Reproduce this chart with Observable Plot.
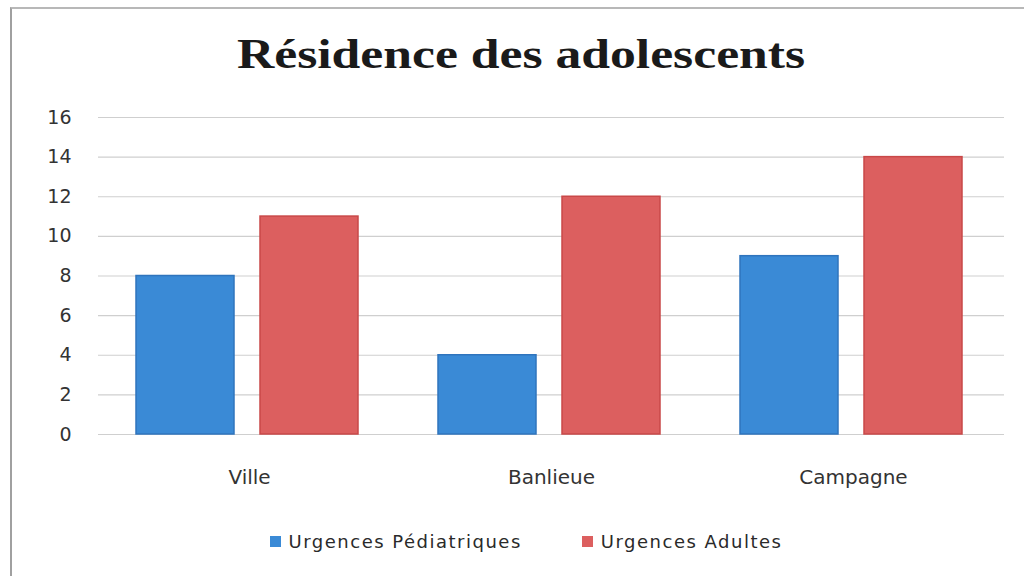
<!DOCTYPE html>
<html>
<head>
<meta charset="utf-8">
<script src="https://cdn.jsdelivr.net/npm/d3@7"></script>
<script src="https://cdn.jsdelivr.net/npm/@observablehq/plot@0.6"></script>
<style>
  html, body { margin: 0; padding: 0; background: #fff; }
  #wrap { position: relative; width: 1024px; height: 576px; overflow: hidden; }
  #frame { position: absolute; left: 10px; top: 7px; width: 1030px; height: 600px; border-left: 2px solid #a0a0a0; border-top: 2px solid #b8b8b8; box-sizing: border-box; }
  #title { position: absolute; left: 0; width: 1042px; top: 30px; text-align: center; font-family: "Liberation Serif", serif; font-weight: bold; font-size: 42px; color: #1a1a1a; transform: scaleX(1.23); transform-origin: 521px 0; }
  #chart { position: absolute; left: 0; top: 90px; }
  #legend { position: absolute; top: 531px; left: 0; width: 1052px; display: flex; justify-content: center; gap: 60px; font-family: "DejaVu Sans", sans-serif; font-size: 18px; letter-spacing: 1.5px; color: #2a2a2a; }
  #legend span.item { display: flex; align-items: center; gap: 8px; }
  #legend span.sw { display: inline-block; width: 11px; height: 11px; }
</style>
</head>
<body>
<div id="wrap">
  <div id="frame"></div>
  <div id="title">Résidence des adolescents</div>
  <div id="chart"></div>
  <div id="legend"></div>
</div>
<script>
const categories = ["Ville", "Banlieue", "Campagne"];
const seriesNames = ["Urgences Pédiatriques", "Urgences Adultes"];
const pediatriques = [8, 4, 9];
const adultes = [11, 12, 14];
const yTicks = [0, 2, 4, 6, 8, 10, 12, 14, 16];
const colors = ["#3a8ad6", "#dc5f5f"];
const strokes = ["#2f74bd", "#c94848"];

const data = [];
categories.forEach((c, i) => {
  data.push({cat: c, serie: seriesNames[0], value: pediatriques[i]});
  data.push({cat: c, serie: seriesNames[1], value: adultes[i]});
});

const plot = Plot.plot({
  width: 1024,
  height: 420,
  marginTop: 27,
  marginBottom: 76,
  marginLeft: 97,
  marginRight: 19,
  style: {fontFamily: "'DejaVu Sans', sans-serif", fontSize: "18px", color: "#333", background: "transparent"},
  fx: {domain: categories, padding: 0, label: null},
  x: {domain: seriesNames, paddingInner: 0.21, paddingOuter: 0.32, align: 0.475, axis: null},
  y: {domain: [0, 16], ticks: yTicks, label: null},
  color: {domain: seriesNames, range: colors},
  marks: [
    Plot.ruleY(yTicks, {stroke: "#cfcfcf", strokeWidth: 1.2}),
    Plot.barY(data, {fx: "cat", x: "serie", y: "value", fill: "serie",
      stroke: d => strokes[seriesNames.indexOf(d.serie)], strokeWidth: 1.5}),
    Plot.axisY({ticks: yTicks, tickSize: 0, tickPadding: 27, fontSize: 19, fill: "#333"}),
    Plot.axisFx({anchor: "bottom", tickSize: 0, tickPadding: 35, fontSize: 20, letterSpacing: 2, label: null, fill: "#333"})
  ]
});
document.getElementById("chart").appendChild(plot);

const legend = document.getElementById("legend");
seriesNames.forEach((s, i) => {
  const item = document.createElement("span");
  item.className = "item";
  const sw = document.createElement("span");
  sw.className = "sw";
  sw.style.background = colors[i];
  item.appendChild(sw);
  const t = document.createElement("span");
  t.textContent = s;
  item.appendChild(t);
  legend.appendChild(item);
});
</script>
</body>
</html>
